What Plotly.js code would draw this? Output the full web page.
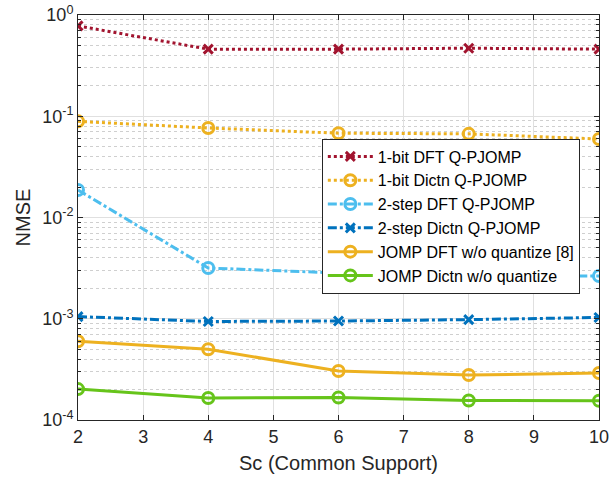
<!DOCTYPE html>
<html><head><meta charset="utf-8">
<script src="https://cdn.plot.ly/plotly-3.0.1.min.js"></script>
<style>html,body{margin:0;padding:0;background:#fff}</style>
</head><body><div id="chart" style="width:609px;height:483px"></div>
<script>
const xs = [2, 4, 6, 8, 10];
const names = ["1-bit DFT Q-PJOMP","1-bit Dictn Q-PJOMP","2-step DFT Q-PJOMP","2-step Dictn Q-PJOMP","JOMP DFT w/o quantize [8]","JOMP Dictn w/o quantize"];
const oneBitDFT   = [0.78, 0.46, 0.46, 0.47, 0.46];
const oneBitDictn = [0.089, 0.0766, 0.068, 0.067, 0.0596];
const twoStepDFT  = [0.0187, 0.00317, 0.00283, 0.00264, 0.00264];
const twoStepDictn= [0.00105, 0.00094, 0.00095, 0.00098, 0.00103];
const jompDFT     = [0.0006, 0.0005, 0.000305, 0.000278, 0.000291];
const jompDictn   = [0.000202, 0.000165, 0.000167, 0.000156, 0.000155];
const yTickVals = [1e-4, 1e-3, 1e-2, 1e-1, 1];
const yTickText = ["10<sup>-4</sup>","10<sup>-3</sup>","10<sup>-2</sup>","10<sup>-1</sup>","10<sup>0</sup>"];
const xTickVals = [2,3,4,5,6,7,8,9,10];
const minorMantissas = [2,3,4,5,6,7,8,9];
const minorDecades = [1e-4, 1e-3, 1e-2, 1e-1];
const yMinorVals = [];
minorDecades.forEach(d => minorMantissas.forEach(m => yMinorVals.push(m*d)));

const series = [
  {y: oneBitDFT, color:'#A2142F', dash:'dot', sym:'x-thin-open', msize:9},
  {y: oneBitDictn, color:'#EDB120', dash:'dot', sym:'circle-open', msize:11},
  {y: twoStepDFT, color:'#4DBEEE', dash:'dashdot', sym:'circle-open', msize:11},
  {y: twoStepDictn, color:'#0072BD', dash:'dashdot', sym:'x-thin-open', msize:9},
  {y: jompDFT, color:'#EDB120', dash:'solid', sym:'circle-open', msize:11},
  {y: jompDictn, color:'#66C41A', dash:'solid', sym:'circle-open', msize:11}
];
const data = series.map((s,i)=>({
  x: xs, y: s.y, name: names[i], type:'scatter', mode:'lines+markers',
  line:{color:s.color, width:3, dash:s.dash},
  marker:{symbol:s.sym, size:s.msize, color:s.color, line:{color:s.color, width:3}}
}));
const layout = {
  width:609, height:483,
  margin:{l:78, r:10, t:15, b:63},
  paper_bgcolor:'#fff', plot_bgcolor:'#fff',
  font:{family:'Liberation Sans, Arial, sans-serif', color:'#262626'},
  showlegend:true,
  legend:{x:0.468, y:0.695, xanchor:'left', yanchor:'top', bgcolor:'#fff', bordercolor:'#262626', borderwidth:1, font:{size:16, color:'#000'}, tracegroupgap:0, itemwidth:45},
  xaxis:{range:[2,10], tickvals:xTickVals, ticks:'inside', ticklen:5, tickcolor:'#262626',
    ticklabeloverflow:'allow',
    showline:true, linecolor:'#262626', linewidth:1, mirror:'ticks', zeroline:false,
    showgrid:true, gridcolor:'#e0e0e0', gridwidth:1,
    tickfont:{size:18}, title:{text:'Sc (Common Support)', font:{size:20}, standoff:10}},
  yaxis:{type:'log', range:[-4,0], tickvals:yTickVals, ticktext:yTickText, ticks:'inside', ticklen:5, tickcolor:'#262626',
    ticklabeloverflow:'allow',
    showline:true, linecolor:'#262626', linewidth:1, mirror:'ticks', zeroline:false,
    showgrid:true, gridcolor:'#e0e0e0', gridwidth:1,
    minor:{tickvals:yMinorVals, showgrid:true, gridcolor:'#cfcfcf', griddash:'dot', ticks:'inside', ticklen:3, tickcolor:'#262626'},
    tickfont:{size:18}, title:{text:'NMSE', font:{size:20}, standoff:6}}
};
Plotly.newPlot('chart', data, layout, {staticPlot:true, displayModeBar:false});
</script></body></html>
